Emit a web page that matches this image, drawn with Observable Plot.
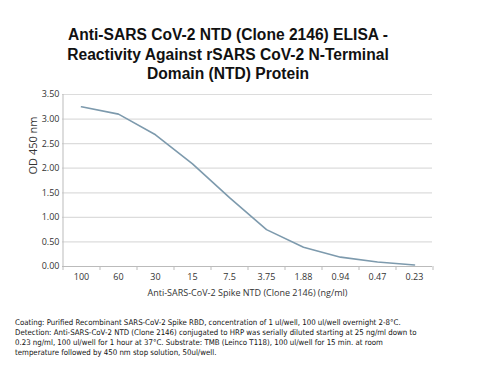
<!DOCTYPE html>
<html>
<head>
<meta charset="utf-8">
<script src="https://cdn.jsdelivr.net/npm/d3@7"></script>
<script src="https://cdn.jsdelivr.net/npm/@observablehq/plot@0.6"></script>
<style>
  body { margin: 0; background: #fff; }
  #wrap { position: relative; width: 494px; height: 369px; overflow: hidden; background: #fff; }
  #title { position: absolute; left: 0; top: 25px; width: 456px; text-align: center;
    font-family: "Liberation Sans", Arial, sans-serif; font-weight: bold; font-size: 15.6px;
    line-height: 19.5px; color: #111; }
  #caption { position: absolute; left: 15px; top: 318px; width: 480px; white-space: pre-line;
    font-family: "Liberation Sans Narrow", "DejaVu Sans Condensed", sans-serif; font-size: 7.8px;
    line-height: 10px; color: #111; }
  #chart { position: absolute; left: 0; top: 0; }
</style>
</head>
<body>
<div id="wrap">
  <div id="chart"></div>
  <div id="title">Anti-SARS CoV-2 NTD (Clone 2146) ELISA -<br>Reactivity Against rSARS CoV-2 N-Terminal<br>Domain (NTD) Protein</div>
  <div id="caption"></div>
</div>
<script>
const concentrations = ["100", "60", "30", "15", "7.5", "3.75", "1.88", "0.94", "0.47", "0.23"];
const od450 = [3.25, 3.10, 2.68, 2.09, 1.40, 0.75, 0.39, 0.19, 0.09, 0.03];
const yTicks = [0, 0.5, 1, 1.5, 2, 2.5, 3, 3.5];
const captionLines = [
  "Coating: Purified Recombinant SARS-CoV-2 Spike RBD, concentration of 1 ul/well, 100 ul/well overnight 2-8°C.",
  "Detection: Anti-SARS-CoV-2 NTD (Clone 2146) conjugated to HRP was serially diluted starting at 25 ng/ml down to",
  "0.23 ng/ml, 100 ul/well for 1 hour at 37°C. Substrate: TMB (Leinco T118), 100 ul/well for 15 min. at room",
  "temperature followed by 450 nm stop solution, 50ul/well."
];

const data = concentrations.map((c, i) => ({c, od: od450[i]}));
const bw = 370 / concentrations.length;

const plot = Plot.plot({
  width: 494,
  height: 369,
  marginTop: 94,
  marginBottom: 103,
  marginLeft: 62,
  marginRight: 62,
  style: {fontFamily: "'Open Sans', sans-serif", fontSize: "9px", color: "#333", background: "transparent"},
  x: {type: "point", domain: concentrations, padding: 0.5, label: null},
  y: {domain: [0, 3.5], label: null},
  marks: [
    Plot.gridY(yTicks, {stroke: "#dcdcdc", strokeOpacity: 1, strokeWidth: 1.2}),
    Plot.ruleX(concentrations, {x: d => d, y1: 0, y2: 0, dx: -bw / 2, insetBottom: -4, stroke: "#bbb"}),
    Plot.ruleX([concentrations[concentrations.length - 1]], {y1: 0, y2: 0, dx: bw / 2, insetBottom: -4, stroke: "#bbb"}),
    Plot.axisY(yTicks, {tickSize: 0, tickPadding: 3, tickFormat: d3.format(".2f"), fontSize: 9, label: null}),
    Plot.axisX({tickSize: 0, tickPadding: 7, fontSize: 9, label: null}),
    Plot.ruleY([0], {stroke: "#bbb"}),
    Plot.ruleX([concentrations[0]], {y1: 0, y2: 3.5, dx: -bw / 2, stroke: "#bbb"}),
    Plot.line(data, {x: "c", y: "od", stroke: "#7d9aad", strokeWidth: 1.6}),
    Plot.text(["Anti-SARS-CoV-2 Spike NTD (Clone 2146) (ng/ml)"], {frameAnchor: "bottom", dy: 29, fontSize: 9, fill: "#333"}),
    Plot.text(["OD 450 nm"], {frameAnchor: "left", dx: -29, dy: -6, rotate: -90, fontSize: 11, fill: "#333"})
  ]
});
document.getElementById("chart").appendChild(plot);
document.getElementById("caption").textContent = captionLines.join("\n");
</script>
</body>
</html>
